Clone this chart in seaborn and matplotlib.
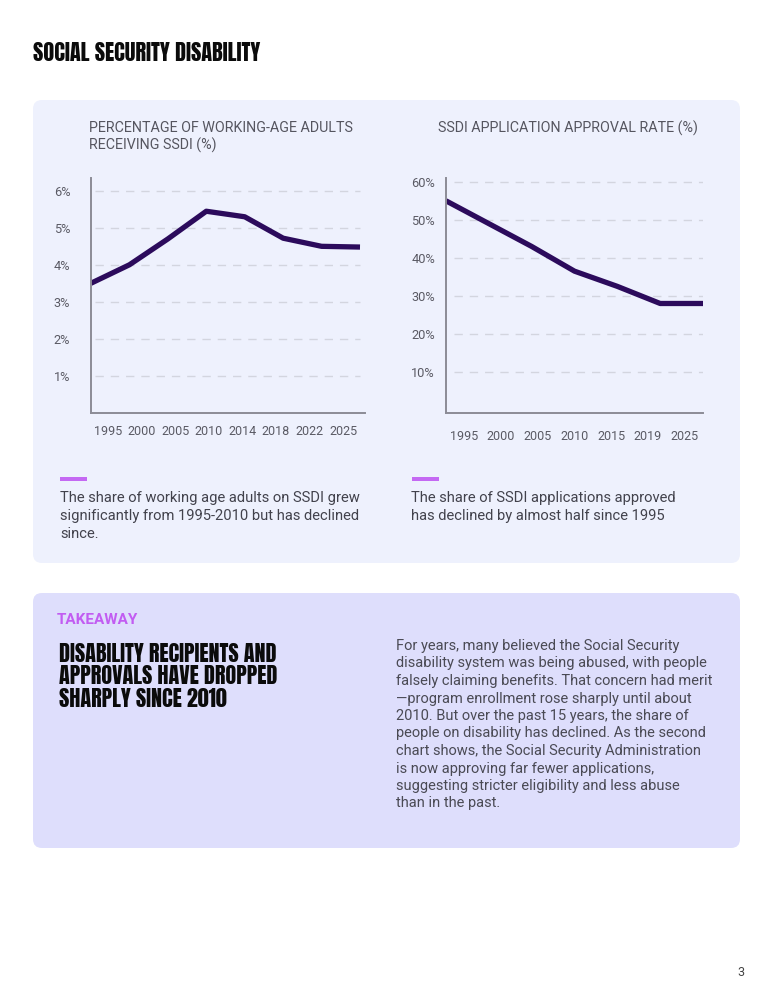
import numpy as np
import matplotlib
matplotlib.use("Agg")
import matplotlib.pyplot as plt
import seaborn as sns
from matplotlib.patches import FancyBboxPatch
from matplotlib.transforms import IdentityTransform
from matplotlib import font_manager as fm

# chart data
left_years = ["1995", "2000", "2005", "2010", "2014", "2018", "2022", "2025"]
left_share = [3.5, 4.0, 4.7, 5.45, 5.3, 4.72, 4.5, 4.48]
left_ticks = [1, 2, 3, 4, 5, 6]

right_years = ["1995", "2000", "2005", "2010", "2015", "2019", "2025"]
right_rate = [55, 49, 43, 36.5, 32.5, 28, 28]
right_ticks = [10, 20, 30, 40, 50, 60]

left_caption = ["The share of working age adults on SSDI grew",
                "significantly from 1995-2010 but has declined",
                "since."]
right_caption = ["The share of SSDI applications approved",
                 "has declined by almost half since 1995"]
heading = ["DISABILITY RECIPIENTS AND", "APPROVALS HAVE DROPPED", "SHARPLY SINCE 2010"]
body = ["For years, many believed the Social Security",
        "disability system was being abused, with people",
        "falsely claiming benefits. That concern had merit",
        "\u2014program enrollment rose sharply until about",
        "2010. But over the past 15 years, the share of",
        "people on disability has declined. As the second",
        "chart shows, the Social Security Administration",
        "is now approving far fewer applications,",
        "suggesting stricter eligibility and less abuse",
        "than in the past."]

W, H = 773, 1000
LINE = "#2c0b5c"
GREY = "#55555f"
PURPLE = "#c469f3"

sns.set_theme(style="white")
plt.rcParams["font.family"] = ["Roboto", "DejaVu Sans"]

# pick a condensed heavy face for the headings if one is installed
names = {f.name for f in fm.fontManager.ttflist}
head_kw = dict(family=["Roboto", "DejaVu Sans"], weight=900)
for cand in ["Anton", "Bebas Neue", "League Gothic", "Roboto Condensed",
             "Liberation Sans Narrow", "Open Sans Condensed"]:
    if cand in names:
        head_kw = dict(family=[cand, "DejaVu Sans"], weight="bold")
        break

fig = plt.figure(figsize=(W / 100, H / 100), dpi=100)
fig.patch.set_facecolor("white")
renderer = fig.canvas.get_renderer()


def box(l, t, r, b):
    return [l / W, 1 - b / H, (r - l) / W, (b - t) / H]


def panel(l, t, r, b, color):
    p = FancyBboxPatch((l, H - b), r - l, b - t,
                       boxstyle="round,pad=0,rounding_size=9",
                       transform=IdentityTransform(), fc=color, ec="none", zorder=0)
    fig.add_artist(p)


def fit(s, width, **kw):
    t = fig.text(0, 0, s, fontsize=10, **kw)
    w = t.get_window_extent(renderer).width
    t.remove()
    return 10 * width / w


def txt(x, y, s, **kw):
    return fig.text(x / W, 1 - y / H, s, **kw)


panel(33, 100, 740, 563, "#eef1fd")
panel(33, 593, 740, 848, "#dedefc")

# page title
size = 0.93 * fit("SOCIAL SECURITY DISABILITY", 243, **head_kw)
txt(33, 53, "SOCIAL SECURITY DISABILITY", fontsize=size, color="#0b0b0b", va="center", **head_kw)

# chart titles
size = fit("PERCENTAGE OF WORKING-AGE ADULTS", 263)
txt(89, 128, "PERCENTAGE OF WORKING-AGE ADULTS", fontsize=size, color=GREY, va="center")
txt(89, 145, "RECEIVING SSDI (%)", fontsize=size, color=GREY, va="center")
txt(568, 128, "SSDI APPLICATION APPROVAL RATE (%)", fontsize=size, color=GREY,
    va="center", ha="center")


def style_axes(ax, ticks, tick_fmt, xpos, labels, ypad, xpad, gx0, gx1):
    ax.set_facecolor("none")
    for sp in ["top", "right"]:
        ax.spines[sp].set_visible(False)
    for sp in ["left", "bottom"]:
        ax.spines[sp].set_color("#8c8c96")
        ax.spines[sp].set_linewidth(1.4)
    for v in ticks:
        ax.axhline(v, xmin=gx0, xmax=gx1, color="#d3d5df", linewidth=1,
                   linestyle=(0, (6, 5)), zorder=0)
    ax.set_yticks(ticks)
    ax.set_yticklabels([tick_fmt.format(v) for v in ticks])
    ax.set_xticks(xpos)
    ax.set_xticklabels(labels)
    ax.tick_params(axis="y", length=0, pad=ypad, labelsize=9.2, labelcolor="#5a5a64")
    ax.tick_params(axis="x", length=0, pad=xpad, labelsize=9.0, labelcolor="#5a5a64")
    ax.set_xlabel("")
    ax.set_ylabel("")
    ax.grid(False)


# left chart
ax1 = fig.add_axes(box(91, 178, 365, 412.5))
sns.lineplot(x=np.arange(len(left_share)), y=left_share, ax=ax1, color=LINE,
             linewidth=3.8, solid_capstyle="butt")
n = len(left_years)
ax1.set_xlim(0, (n - 1) * 274 / 269)
ax1.set_ylim(0, 6.35)
style_axes(ax1, left_ticks, "{}%", [(i + 0.5) * (n - 1) / n for i in range(n)],
           left_years, 15, 9, 4 / 274, 269 / 274)

# right chart
ax2 = fig.add_axes(box(446, 178, 703, 413))
sns.lineplot(x=np.arange(len(right_rate)), y=right_rate, ax=ax2, color=LINE,
             linewidth=3.8, solid_capstyle="butt")
m = len(right_years)
ax2.set_xlim(0, m - 1)
ax2.set_ylim(-0.8, 61)
style_axes(ax2, right_ticks, "{}%", [(i + 0.5) * (m - 1) / m for i in range(m)],
           right_years, 8, 12, 0.03, 1.0)

# caption markers
for x0 in (60, 412):
    fig.add_artist(FancyBboxPatch((x0, H - 480.5), 27, 3.5, boxstyle="square,pad=0",
                                  transform=IdentityTransform(), fc=PURPLE, ec="none"))

cap = fit(left_caption[0], 302)
for i, line in enumerate(left_caption):
    txt(60, 498 + 18 * i, line, fontsize=cap, color="#42424c", va="center")
for i, line in enumerate(right_caption):
    txt(411, 498 + 18 * i, line, fontsize=cap, color="#42424c", va="center")

# takeaway box
size = fit("TAKEAWAY", 81, weight="bold")
txt(57, 620, "TAKEAWAY", fontsize=size, color="#c25cf2", va="center", weight="bold")
size = 0.93 * fit(heading[0], 232, **head_kw)
for i, line in enumerate(heading):
    txt(59, 653.5 + 22.7 * i, line, fontsize=size, color="#0b0b0b", va="center", **head_kw)

size = fit(body[1], 313)
for i, line in enumerate(body):
    txt(396, 646 + 17.5 * i, line, fontsize=size, color="#4a4a54", va="center")

txt(741, 972, "3", fontsize=9, color="#444444", va="center", ha="center")

fig.savefig("out.png", dpi=100, facecolor="white")
